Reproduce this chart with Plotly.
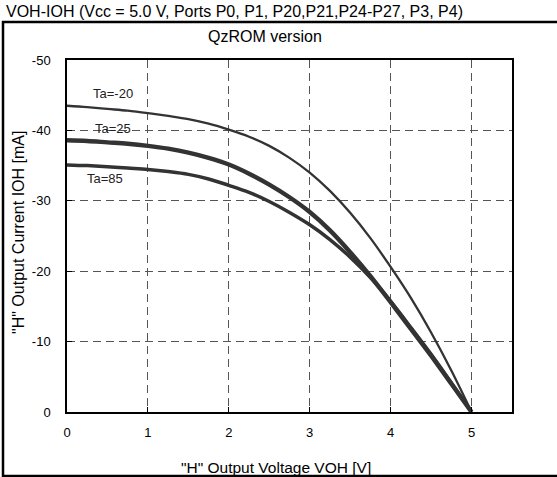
import plotly.graph_objects as go

voh = [0, 0.25, 0.5, 0.75, 1, 1.25, 1.5, 1.75, 2, 2.25, 2.5, 2.75, 3,
       3.25, 3.5, 3.75, 4, 4.25, 4.5, 4.75, 5]
ioh_m20 = [-43.5, -43.3, -43.05, -42.8, -42.45, -42.05, -41.6, -40.95, -40.1, -39.1, -37.8,
           -36.1, -34.0, -31.4, -28.3, -24.7, -20.6, -16.2, -11.3, -5.9, 0]
ioh_25 = [-38.6, -38.5, -38.3, -38.1, -37.8, -37.4, -36.85, -36.1, -35.15, -33.85, -32.3,
          -30.5, -28.4, -25.8, -22.7, -19.3, -15.6, -11.8, -8.0, -4.0, 0]
ioh_85 = [-35.1, -35.0, -34.85, -34.65, -34.45, -34.15, -33.75, -33.1, -32.2, -31.2, -29.9,
          -28.35, -26.6, -24.5, -22.0, -19.1, -15.7, -12.0, -8.2, -4.15, 0]

series = [("Ta=-20", ioh_m20, 2.3), ("Ta=25", ioh_25, 4.4), ("Ta=85", ioh_85, 3.5)]
labels = [("Ta=-20", 0.57, -45.2), ("Ta=25", 0.57, -40.2), ("Ta=85", 0.47, -33.1)]

x_ticks = [0, 1, 2, 3, 4, 5]
y_ticks = [0, -10, -20, -30, -40, -50]

font = "Liberation Sans, Arial, sans-serif"

fig = go.Figure()
for name, ys, w in series:
    fig.add_trace(go.Scatter(x=voh, y=ys, mode="lines", name=name,
                             line=dict(color="#333333", width=w, shape="spline", smoothing=1.0),
                             showlegend=False, hoverinfo="skip"))

for text, x, y in labels:
    fig.add_annotation(x=x, y=y, text=text, showarrow=False, xref="x", yref="y",
                       font=dict(size=13, color="#222", family=font))

L, R, T, B = 67, 45, 60, 65
W, H = 557, 477
pw, ph = W - L - R, H - T - B

def px(x):
    return (x - L) / pw

def py(y):
    return (H - B - y) / ph

fig.add_shape(type="rect", xref="paper", yref="paper",
              x0=px(3), x1=px(562), y0=py(476), y1=py(22),
              line=dict(color="black", width=2.5), fillcolor="rgba(0,0,0,0)", layer="below")

fig.add_annotation(xref="paper", yref="paper", x=px(4), y=py(11), xanchor="left", yanchor="middle",
                   text="VOH-IOH (Vcc = 5.0 V, Ports P0, P1, P20,P21,P24-P27, P3, P4)",
                   showarrow=False, font=dict(size=16, color="black", family=font))
fig.add_annotation(xref="paper", yref="paper", x=px(265), y=py(36), xanchor="center", yanchor="middle",
                   text="QzROM version", showarrow=False, font=dict(size=16, color="black", family=font))
fig.add_annotation(xref="paper", yref="paper", x=px(276), y=py(467), xanchor="center", yanchor="middle",
                   text='"H" Output Voltage VOH [V]', showarrow=False, font=dict(size=15.5, color="black", family=font))
fig.add_annotation(xref="paper", yref="paper", x=px(18), y=py(233), xanchor="center", yanchor="middle",
                   text='"H" Output Current IOH [mA]', textangle=-90, showarrow=False,
                   font=dict(size=16, color="black", family=font))

fig.update_layout(
    width=W, height=H, margin=dict(l=L, r=R, t=T, b=B),
    paper_bgcolor="white", plot_bgcolor="white",
    font=dict(family=font, size=13, color="black"),
    xaxis=dict(range=[0, 5.5], tickvals=x_ticks, ticktext=[str(v) for v in x_ticks],
               showgrid=True, gridcolor="#555555", griddash="8px,5px", gridwidth=1,
               showline=True, linecolor="black", linewidth=1.5, mirror=True,
               ticks="inside", ticklen=5, tickcolor="black", zeroline=False,
               tickfont=dict(size=13, family=font), ticklabelstandoff=8),
    yaxis=dict(range=[0, -50], tickvals=y_ticks, ticktext=[str(v) for v in y_ticks],
               showgrid=True, gridcolor="#555555", griddash="8px,5px", gridwidth=1,
               showline=True, linecolor="black", linewidth=1.5, mirror=True,
               ticks="inside", ticklen=5, tickcolor="black", zeroline=False,
               tickfont=dict(size=13, family=font), ticklabelstandoff=12),
)

fig.write_html("out.html")
